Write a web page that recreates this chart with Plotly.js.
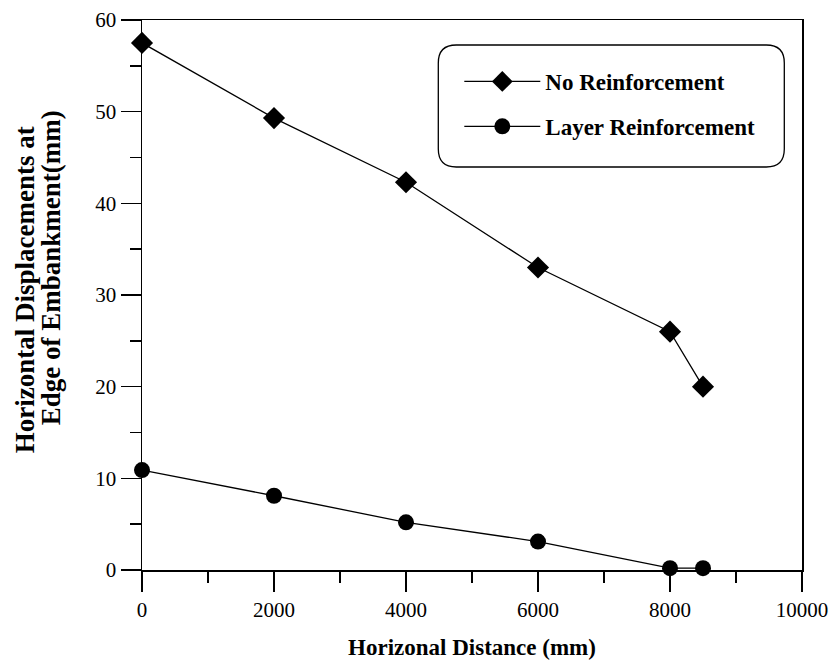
<!DOCTYPE html>
<html>
<head>
<meta charset="utf-8">
<script src="https://cdn.plot.ly/plotly-3.0.1.min.js"></script>
<style>html,body{margin:0;padding:0;background:#fff;}#chart{width:832px;height:660px;}</style>
</head>
<body>
<div id="chart"></div>
<script>
const distance = [0, 2000, 4000, 6000, 8000, 8500];
const noReinforcement = [57.5, 49.3, 42.3, 33.0, 26.0, 20.0];
const layerReinforcement = [10.9, 8.1, 5.2, 3.1, 0.2, 0.2];
const seriesNames = ["No Reinforcement", "Layer Reinforcement"];
const xTitle = "Horizonal Distance (mm)";
const yTitleLines = ["Horizontal Displacements at", "Edge of Embankment(mm)"];

const FONT = "Liberation Serif, Times New Roman, serif";

const traces = [
  {
    x: distance, y: noReinforcement, name: seriesNames[0],
    type: "scatter", mode: "lines+markers", cliponaxis: false,
    legendgroup: "a",
    line: {color: "#000", width: 1.3},
    marker: {symbol: "diamond", size: 17, color: "#000"}
  },
  {
    x: distance, y: layerReinforcement, name: seriesNames[1],
    type: "scatter", mode: "lines+markers", cliponaxis: false,
    legendgroup: "b",
    line: {color: "#000", width: 1.3},
    marker: {symbol: "circle", size: 16, color: "#000"}
  }
];

// plot area in pixels: x 141.7..801.7, y 20..570
const L = 141.7, R = 801.7, T = 20, B = 570;
function px(x) { return (x - L) / (R - L); }
function py(y) { return (B - y) / (B - T); }
// rounded legend frame
const bx0 = 438, bx1 = 784, by0 = 45, by1 = 167, rad = 18;
const framePath = [
  "M", px(bx0 + rad), py(by0),
  "L", px(bx1 - rad), py(by0),
  "Q", px(bx1), py(by0), px(bx1), py(by0 + rad),
  "L", px(bx1), py(by1 - rad),
  "Q", px(bx1), py(by1), px(bx1 - rad), py(by1),
  "L", px(bx0 + rad), py(by1),
  "Q", px(bx0), py(by1), px(bx0), py(by1 - rad),
  "L", px(bx0), py(by0 + rad),
  "Q", px(bx0), py(by0), px(bx0 + rad), py(by0),
  "Z"
].join(" ");

const titleFont = {family: FONT, size: 27, weight: "bold", color: "#000"};

const layout = {
  width: 832, height: 660,
  margin: {l: L, r: 832 - R, t: T, b: 660 - B},
  paper_bgcolor: "#fff", plot_bgcolor: "#fff",
  font: {family: FONT, color: "#000", size: 21},
  showlegend: true,
  legend: {
    x: px(459), y: py(60), xanchor: "left", yanchor: "top",
    bgcolor: "rgba(0,0,0,0)", borderwidth: 0,
    traceorder: "grouped", tracegroupgap: 12,
    itemwidth: 76,
    font: {family: FONT, size: 23, weight: "bold", color: "#000"}
  },
  xaxis: {
    range: [0, 10000], tick0: 0, dtick: 2000, tickformat: "d",
    showgrid: false, zeroline: false,
    showline: true, linecolor: "#000", linewidth: 1.5, mirror: true,
    ticks: "outside", ticklen: 20, tickwidth: 1.5, tickcolor: "#000",
    minor: {dtick: 1000, ticks: "outside", ticklen: 11, tickwidth: 1.5, tickcolor: "#000", showgrid: false},
    tickfont: {family: FONT, size: 21},
    title: {text: xTitle, font: {family: FONT, size: 23, weight: "bold"}, standoff: 18}
  },
  yaxis: {
    range: [0, 60], tick0: 0, dtick: 10, tickformat: "d",
    showgrid: false, zeroline: false,
    showline: true, linecolor: "#000", linewidth: 1.5, mirror: true,
    ticks: "outside", ticklen: 20, tickwidth: 1.5, tickcolor: "#000",
    minor: {dtick: 5, ticks: "outside", ticklen: 11, tickwidth: 1.5, tickcolor: "#000", showgrid: false},
    tickfont: {family: FONT, size: 21}
  },
  annotations: [
    {text: yTitleLines[0], xref: "paper", yref: "paper", x: px(25), y: py(290),
     xanchor: "center", yanchor: "middle", textangle: -90, showarrow: false, font: titleFont},
    {text: yTitleLines[1], xref: "paper", yref: "paper", x: px(51), y: py(268),
     xanchor: "center", yanchor: "middle", textangle: -90, showarrow: false, font: titleFont}
  ],
  shapes: [{
    type: "path", xref: "paper", yref: "paper", path: framePath,
    line: {color: "#000", width: 1.3}, fillcolor: "rgba(0,0,0,0)", layer: "above"
  }]
};

Plotly.newPlot("chart", traces, layout, {displayModeBar: false, staticPlot: true});
</script>
</body>
</html>
